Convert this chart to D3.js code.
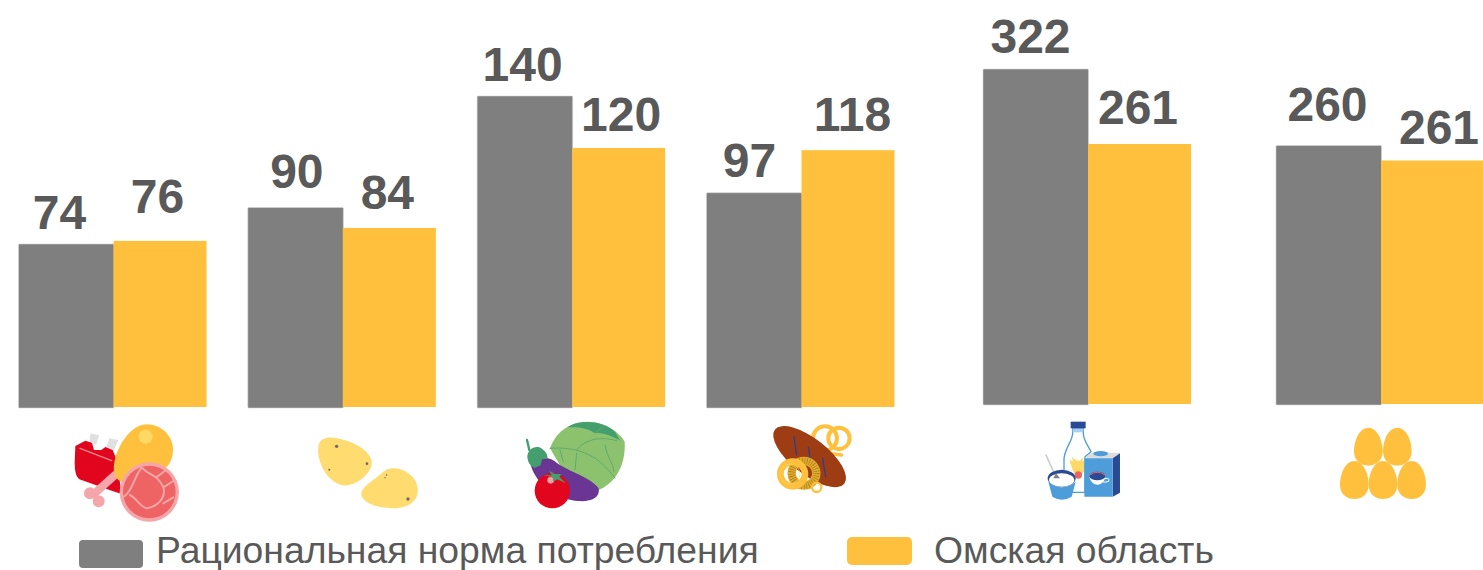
<!DOCTYPE html>
<html lang="en">
<head>
    <meta charset="UTF-8">
    <title>Рациональная норма потребления</title>
    <script src="https://d3js.org/d3.v7.min.js"></script>
    <style>
        html, body { margin: 0; padding: 0; background: #fff; overflow: hidden; }
        svg { display: block; }
        text { font-family: "Liberation Sans", Arial, sans-serif; fill: #595959; }
    </style>
</head>
<body>
<svg id="chart" width="1483" height="570"></svg>

<script type="text/javascript">
// the picture is two panels glued together: food (left) and dairy/eggs (right), each on its own scale
var foodCategories = ["meat", "potato", "vegetables", "bread"];
var otherCategories = ["dairy", "eggs"];
var seriesNames = ["Рациональная норма потребления", "Омская область"];
var seriesColors = ["#7f7f7f", "#ffc13d"];

// printed labels
var normLabels = [74, 90, 140, 97, 322, 260];
var omskLabels = [76, 84, 120, 118, 261, 261];

// bar heights as drawn, they do not always follow the printed label
var normDrawn = [73.6, 90, 140, 96.6, 336, 259.5];
var omskDrawn = [75, 80.8, 116.7, 115.7, 261, 244.5];

// hand placement of the labels in the original, from bar centre / bar top
var normLabelDx = [-6, 2, -1.5, -4, -4.5, -0.5];
var normLabelDy = [-15, -19.5, -15.5, -15.5, -16, -24.5];
var omskLabelDx = [-2, -1.5, 3, 5, -1, 7];
var omskLabelDy = [-28, -18.5, -17, -19, -20, -17];

var svg = d3.select("#chart");

var panels = [
    { cats: foodCategories, first: 0, x: d3.scaleBand().domain(foodCategories).range([18.5, 894.5]).paddingInner(0.18),
      y: d3.scaleLinear().domain([0, 140]).range([408, 96]) },
    { cats: otherCategories, first: 4, x: d3.scaleBand().domain(otherCategories).range([983, 1484]).paddingInner(0.29),
      y: d3.scaleLinear().domain([0, 336]).range([405, 69]) }
];

panels.forEach(function(p) {
    var inner = d3.scaleBand().domain([0, 1]).range([0, p.x.bandwidth()]);
    var groups = svg.append("g").selectAll("g")
        .data(p.cats)
        .enter()
        .append("g")
        .attr("transform", function(d) { return "translate(" + p.x(d) + ",0)"; });

    [normDrawn, omskDrawn].forEach(function(drawn, s) {
        var lift = s == 1 ? 1 : 0; // yellow bars stop a pixel higher
        groups.append("rect")
            .attr("x", inner(s) + s)  // the split between the two bars sits a pixel right of the middle
            .attr("y", function(d, i) { return p.y(drawn[p.first + i]); })
            .attr("width", inner.bandwidth() + (s == 0 ? 1.5 : -1))
            .attr("height", function(d, i) { return p.y(0) - p.y(drawn[p.first + i]) - lift; })
            .attr("rx", s == 0 ? 1 : 0)
            .attr("fill", seriesColors[s])
            .attr("stroke", s == 0 ? "#d4d4d4" : "none")
            .attr("stroke-width", 0.6);
    });

    [[normDrawn, normLabels, normLabelDx, normLabelDy], [omskDrawn, omskLabels, omskLabelDx, omskLabelDy]].forEach(function(a, s) {
        groups.append("text")
            .attr("x", function(d, i) { return inner(s) + inner.bandwidth() / 2 + a[2][p.first + i]; })
            .attr("y", function(d, i) { return p.y(a[0][p.first + i]) + a[3][p.first + i]; })
            .attr("text-anchor", "middle")
            .attr("font-size", 48)
            .attr("font-weight", "bold")
            .text(function(d, i) { return a[1][p.first + i]; });
    });
});

// legend
var legend = svg.append("g");
legend.append("rect").attr("x", 79).attr("y", 540).attr("width", 64).attr("height", 28).attr("rx", 4).attr("fill", seriesColors[0]);
legend.append("text").attr("x", 156).attr("y", 563).attr("font-size", 37.3).text(seriesNames[0]);
legend.append("rect").attr("x", 847).attr("y", 537).attr("width", 65).attr("height", 28).attr("rx", 5).attr("fill", seriesColors[1]);
legend.append("text").attr("x", 934).attr("y", 563).attr("font-size", 37.3).text(seriesNames[1]);

// icons, drawn in 3x units
var left = svg.append("g").attr("transform", "translate(0,400) scale(0.3333)");
var mid = svg.append("g").attr("transform", "translate(500,400) scale(0.3333)");
var right = svg.append("g").attr("transform", "translate(1020,400) scale(0.3333)");

function path(g, d, fill, stroke, w) {
    return g.append("path").attr("d", d).attr("fill", fill || "none")
        .attr("stroke", stroke || "none").attr("stroke-width", w || 0)
        .attr("stroke-linecap", "round").attr("stroke-linejoin", "round");
}
function circle(g, x, y, r, fill, stroke, w) {
    return g.append("circle").attr("cx", x).attr("cy", y).attr("r", r).attr("fill", fill || "none")
        .attr("stroke", stroke || "none").attr("stroke-width", w || 0);
}
function ellipse(g, x, y, rx, ry, fill, rot) {
    return g.append("ellipse").attr("cx", x).attr("cy", y).attr("rx", rx).attr("ry", ry).attr("fill", fill)
        .attr("transform", rot ? "rotate(" + rot + " " + x + " " + y + ")" : null);
}

// meat
path(left, "M268,122 L272,100 L298,106 L288,135Z M318,145 L328,115 L355,120 L342,150Z", "#e0e0e0");
path(left, "M226,138 L256,122 L276,128 L282,150 L304,150 L316,141 L338,150 L350,180 L365,282 L335,272 L238,238 Q224,228 224,190Z", "#e2051e");
path(left, "M240,145 L335,182", null, "#f08a8a", 4);
path(left, "M345,225 L282,282", null, "#f4a6aa", 24);
circle(left, 270, 280, 18, "#f4a6aa");
circle(left, 296, 304, 18, "#f4a6aa");
path(left, "M440,73 C490,73 522,115 519,155 C516,195 490,215 450,240 C410,262 350,260 342,215 C335,170 380,75 440,73Z", "#ffc13d");
circle(left, 437, 110, 21, "#ffd966");
circle(left, 448, 276, 89, "#f4a6aa");
circle(left, 448, 276, 79, "#ee6464");
path(left, "M425,202 C400,235 400,270 372,290 M425,202 C445,225 475,225 490,262 C500,295 470,320 440,325 C420,320 410,295 390,285 M490,262 L525,240 M470,232 L495,212 M490,310 L520,292", null, "#f6a5a5", 6);

// potatoes
path(left, "M955,140 C960,105 1000,108 1040,122 C1090,138 1120,168 1115,195 C1105,232 1060,260 1030,256 C985,248 950,190 955,140Z", "#ffdb70");
path(left, "M1084,282 C1084,258 1125,240 1150,215 C1175,195 1222,205 1245,240 C1265,278 1250,315 1200,323 C1150,330 1085,312 1084,282Z", "#ffdb70");
[[1010, 139, 5], [1101, 191, 4], [988, 209, 3], [1224, 297, 5], [1160, 225, 2.5], [1155, 233, 2]].forEach(function(c) {
    circle(left, c[0], c[1], c[2], "#6b6b6b");
});

// cabbage, eggplant, tomato
path(mid, "M150,145 C165,100 205,65 265,65 C320,65 365,105 374,125 C378,190 350,250 290,272 L200,230Z", "#8cc26e");
path(mid, "M203,82 C225,62 300,55 345,95 L360,122 C340,110 305,95 285,100 C265,85 235,80 203,82Z", "#459e6d");
path(mid, "M150,145 C220,140 290,155 345,235 M350,122 C290,105 250,125 232,148 M315,135 C320,170 340,190 342,215 M285,100 L310,78 M230,160 L225,210 M180,150 L190,185", null, "#5fa96d", 3);
path(mid, "M92,195 C115,165 150,168 172,190 C212,218 272,232 296,265 C302,295 270,306 235,303 C180,300 112,262 92,195Z", "#6a3593");
path(mid, "M81,120 L88,150", null, "#459e6d", 7);
path(mid, "M82,172 C82,150 100,138 118,142 C135,150 145,165 142,176 L126,178 L122,196 L104,204 Q84,196 82,172Z", "#459e6d");
circle(mid, 157, 272, 53, "#e2051e");
circle(mid, 152, 241, 10, "#f4a0a8");
path(mid, "M130,225 L155,226 L148,212 L165,222 L185,222 L178,230 L198,250 L172,238 L160,245 L158,232Z", "#459e6d");

// bread, pretzel, bagels
circle(mid, 975, 115, 36, null, "#ffc13d", 12);
circle(mid, 1017, 115, 32, null, "#ffc13d", 12);
path(mid, "M985,160 L1025,165", null, "#ffc13d", 10);
ellipse(mid, 929, 170, 132, 54, "#9e3d14", 38);
path(mid, "M882,110 L890,165 M925,142 L932,180 M968,175 L977,230", null, "#2b3f8f", 4);
circle(mid, 912, 220, 37, null, "#e6ac2c", 25);
circle(mid, 912, 220, 37, null, "#9a7a20", 20).attr("stroke-dasharray", "2 5");
circle(mid, 878, 222, 37, null, "#ffc13d", 20);
circle(mid, 870, 222, 30, null, "#ffd966", 2);
circle(mid, 950, 262, 14, null, "#ffc13d", 7);

// milk
path(right, "M158,85 L158,100 C158,125 132,145 132,180 L132,277 L195,277 L195,170 L213,155 C200,130 190,120 190,100 L190,85Z", "#ffffff", "#4e9ddb", 4);
path(right, "M158,85 L190,85 L190,97 L158,97Z", "#a9d0ee");
path(right, "M152,65 L197,65 L197,85 L152,85Z", "#2a4a93");
path(right, "M148,180 L160,184 L155,170 L170,182 L180,182 L190,170 L187,184 L192,182 L192,215 L175,232 L160,215Z", "#ffd966");
circle(right, 175, 225, 11, "#ee6464");
path(right, "M215,158 L300,158 L278,175 L193,175Z", "#dcdcdc");
path(right, "M278,175 L300,160 L300,278 L278,290Z", "#2a4a93");
path(right, "M193,175 L278,175 L278,290 L193,290Z", "#4e9ddb");
ellipse(right, 242, 161, 22, 8, "#4e9ddb");
path(right, "M208,230 C215,262 250,262 256,230Z", "#ffffff");
ellipse(right, 232, 228, 24, 13, "#2a4a93");
path(right, "M209,225 Q232,208 255,225", null, "#ee6464", 3);
path(right, "M255,236 Q270,232 266,244 Q258,248 250,246", null, "#ffffff", 3);
path(right, "M78,165 L105,225", null, "#cccccc", 5);
ellipse(right, 125, 235, 42, 26, "#2a4a93");
ellipse(right, 125, 240, 38, 20, "#ffffff");
path(right, "M100,235 L108,220 L120,235Z", "#808080");
path(right, "M85,245 Q125,278 167,245 L155,290 Q125,308 97,290Z", "#4e9ddb");

// eggs
[[1045, 140], [1132, 140], [1003, 240], [1089, 240], [1175, 240]].forEach(function(c) {
    path(right, "M0,-57 C26,-57 43,-20 43,14 C43,42 22,57 0,57 C-22,57 -43,42 -43,14 C-43,-20 -26,-57 0,-57Z", "#ffc13d")
        .attr("transform", "translate(" + c[0] + "," + c[1] + ")");
});
</script>

</body>
</html>
